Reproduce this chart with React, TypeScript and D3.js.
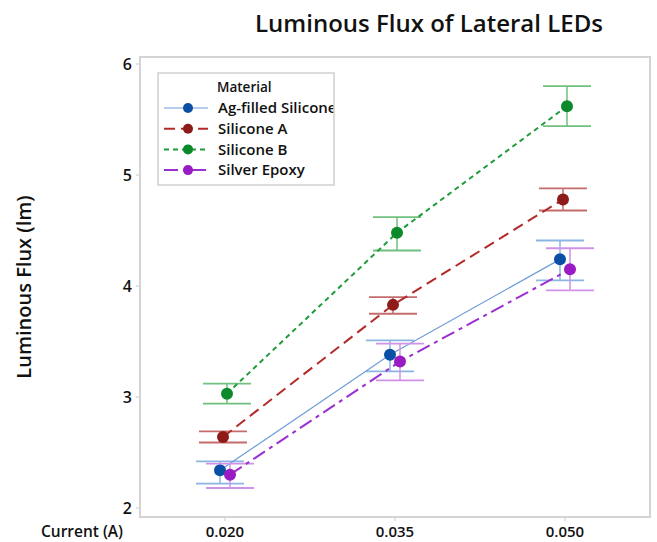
import { useRef, useEffect } from 'react';
import * as d3 from 'd3';

// category axis
const currents = ['0.020', '0.035', '0.050'];
const yTicks = [2, 3, 4, 5, 6];

// means and interval ends
const agMean = [2.34, 3.38, 4.24];
const agLow = [2.22, 3.23, 4.05];
const agHigh = [2.42, 3.51, 4.41];

const siAMean = [2.64, 3.83, 4.78];
const siALow = [2.59, 3.75, 4.68];
const siAHigh = [2.69, 3.9, 4.88];

const siBMean = [3.03, 4.48, 5.62];
const siBLow = [2.94, 4.32, 5.44];
const siBHigh = [3.12, 4.62, 5.8];

const epMean = [2.3, 3.32, 4.15];
const epLow = [2.18, 3.15, 3.96];
const epHigh = [2.4, 3.48, 4.34];

interface Series {
  name: string;
  mean: number[];
  low: number[];
  high: number[];
  marker: string;
  line: string;
  bar: string;
  dash: string | null;
  lineWidth: number;
  offset: number;
}

const series: Series[] = [
  { name: 'Ag-filled Silicone', mean: agMean, low: agLow, high: agHigh, marker: '#0a4fa6', line: '#6e9dd8', bar: '#8db5e4', dash: null, lineWidth: 1.2, offset: -5 },
  { name: 'Silicone A', mean: siAMean, low: siALow, high: siAHigh, marker: '#8e1a1a', line: '#b32a2a', bar: '#c56d6d', dash: '11,6', lineWidth: 2, offset: -2 },
  { name: 'Silicone B', mean: siBMean, low: siBLow, high: siBHigh, marker: '#0c8a2b', line: '#1e9b3b', bar: '#70c07e', dash: '5,4', lineWidth: 2, offset: 2 },
  { name: 'Silver Epoxy', mean: epMean, low: epLow, high: epHigh, marker: '#9a1ac4', line: '#9c2fd2', bar: '#cf92e6', dash: '14,5,4,5', lineWidth: 2, offset: 5 },
];

const W = 657;
const H = 542;
const FONT = '"Open Sans", "Noto Sans", sans-serif';

export default function App() {
  const ref = useRef<SVGSVGElement | null>(null);

  useEffect(() => {
    const svg = d3.select(ref.current);
    svg.selectAll('*').remove();

    const frame = { left: 140, right: 650, top: 57, bottom: 517 };

    const x = d3.scalePoint<string>().domain(currents).range([frame.left, frame.right]).padding(0.5);
    const y = d3.scaleLinear().domain([2, 6]).range([508, 64]);

    svg.append('rect').attr('width', W).attr('height', H).attr('fill', '#fff');

    // title
    svg.append('text')
      .attr('x', 429).attr('y', 32)
      .attr('text-anchor', 'middle')
      .style('font-family', FONT).style('font-size', '24px').style('font-weight', 600)
      .attr('fill', '#111')
      .text('Luminous Flux of Lateral LEDs');

    // frame
    svg.append('rect')
      .attr('x', frame.left).attr('y', frame.top)
      .attr('width', frame.right - frame.left).attr('height', frame.bottom - frame.top)
      .attr('fill', 'none').attr('stroke', '#d4d4d4').attr('stroke-width', 2);

    // y axis
    const ya = svg.append('g');
    yTicks.forEach(t => {
      ya.append('line')
        .attr('x1', frame.left - 4).attr('x2', frame.left - 1)
        .attr('y1', y(t)).attr('y2', y(t))
        .attr('stroke', '#c8c8c8');
      ya.append('text')
        .attr('x', frame.left - 8).attr('y', y(t)).attr('dy', '0.35em')
        .attr('text-anchor', 'end')
        .style('font-family', FONT).style('font-size', '16px').style('font-weight', 600)
        .attr('fill', '#111')
        .text(t);
    });

    svg.append('text')
      .attr('transform', `translate(31,287) rotate(-90)`)
      .attr('text-anchor', 'middle')
      .style('font-family', FONT).style('font-size', '20px').style('font-weight', 600)
      .attr('fill', '#111')
      .text('Luminous Flux (lm)');

    // x axis
    const xa = svg.append('g');
    currents.forEach(c => {
      xa.append('line')
        .attr('x1', x(c)!).attr('x2', x(c)!)
        .attr('y1', frame.bottom + 1).attr('y2', frame.bottom + 4)
        .attr('stroke', '#c8c8c8');
      xa.append('text')
        .attr('x', x(c)!).attr('y', 537)
        .attr('text-anchor', 'middle')
        .style('font-family', FONT).style('font-size', '15px').style('font-weight', 600)
        .attr('fill', '#111')
        .text(c);
    });
    svg.append('text')
      .attr('x', 82).attr('y', 537)
      .attr('text-anchor', 'middle')
      .style('font-family', FONT).style('font-size', '15.5px').style('font-weight', 600)
      .attr('fill', '#111')
      .text('Current (A)');

    // series
    series.forEach(s => {
      const g = svg.append('g');
      const px = (i: number) => x(currents[i])! + s.offset;

      s.mean.forEach((_, i) => {
        g.append('line')
          .attr('x1', px(i)).attr('x2', px(i))
          .attr('y1', y(s.low[i])).attr('y2', y(s.high[i]))
          .attr('stroke', s.bar).attr('stroke-width', 1.5);
        [s.low[i], s.high[i]].forEach(v => {
          g.append('line')
            .attr('x1', px(i) - 24).attr('x2', px(i) + 24)
            .attr('y1', y(v)).attr('y2', y(v))
            .attr('stroke', s.bar).attr('stroke-width', 1.8);
        });
      });

      const line = d3.line<number>().x((_, i) => px(i)).y(d => y(d));
      g.append('path')
        .datum(s.mean)
        .attr('fill', 'none')
        .attr('stroke', s.line)
        .attr('stroke-width', s.lineWidth)
        .attr('stroke-dasharray', s.dash)
        .attr('d', line);

      g.selectAll('circle')
        .data(s.mean)
        .join('circle')
        .attr('cx', (_, i) => px(i))
        .attr('cy', d => y(d))
        .attr('r', 6)
        .attr('fill', s.marker);
    });

    // legend
    const lg = { x: 158, y: 73, w: 176, h: 112 };
    svg.append('clipPath').attr('id', 'legclip')
      .append('rect').attr('x', lg.x).attr('y', lg.y).attr('width', lg.w).attr('height', lg.h);
    const leg = svg.append('g').attr('clip-path', 'url(#legclip)');
    leg.append('rect')
      .attr('x', lg.x).attr('y', lg.y).attr('width', lg.w).attr('height', lg.h)
      .attr('fill', '#fff');
    leg.append('text')
      .attr('x', 217).attr('y', 87).attr('dy', '0.35em')
      .style('font-family', FONT).style('font-size', '13.5px').style('font-weight', 600)
      .attr('fill', '#111')
      .text('Material');
    series.forEach((s, i) => {
      const yy = 108 + i * 20.7;
      leg.append('line')
        .attr('x1', 164).attr('x2', 208)
        .attr('y1', yy).attr('y2', yy)
        .attr('stroke', s.line).attr('stroke-width', s.lineWidth)
        .attr('stroke-dasharray', s.dash);
      leg.append('circle').attr('cx', 188).attr('cy', yy).attr('r', 5).attr('fill', s.marker);
      leg.append('text')
        .attr('x', 218).attr('y', yy).attr('dy', '0.35em')
        .style('font-family', FONT).style('font-size', '15px').style('font-weight', 600)
        .attr('fill', '#111')
        .text(s.name);
    });
    svg.append('rect')
      .attr('x', lg.x).attr('y', lg.y).attr('width', lg.w).attr('height', lg.h)
      .attr('fill', 'none').attr('stroke', '#cfcfcf').attr('stroke-width', 1.5);
  }, []);

  return (
    <svg
      ref={ref}
      width={W}
      height={H}
      style={{ position: 'absolute', left: 0, top: 0, display: 'block' }}
    />
  );
}
